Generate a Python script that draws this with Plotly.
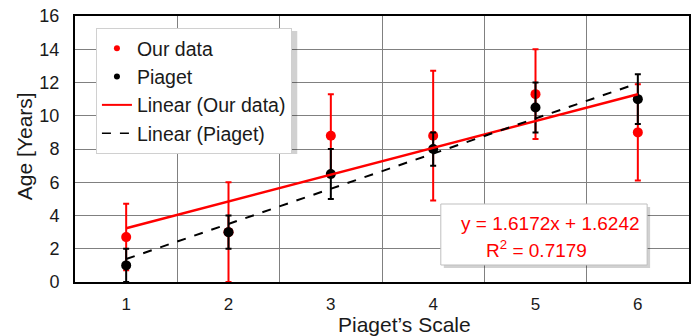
import numpy as np
import plotly.graph_objects as go

# ---- data ----
scale = [1, 2, 3, 4, 5, 6]
our_age = [2.7, 3.0, 8.8, 8.8, 11.3, 9.0]
our_err = [2.0, 3.0, 2.5, 3.9, 2.7, 2.9]
piaget_age = [1.0, 3.0, 6.5, 8.0, 10.5, 11.0]
piaget_err = [1.0, 1.0, 1.5, 1.0, 1.5, 1.5]
eq_text = "y = 1.6172x + 1.6242"
r2_text = "R<sup>2</sup> = 0.7179"

RED = "#ff0000"
BLK = "#000000"

# linear trend lines (least squares, as the spreadsheet does)
xs = np.array(scale, dtype=float)
m1, b1 = np.polyfit(xs, our_age, 1)
m2, b2 = np.polyfit(xs, piaget_age, 1)
tx = [xs.min(), xs.max()]

fig = go.Figure()
fig.add_trace(go.Scatter(
    x=scale, y=our_age, mode="markers", name="Our data", showlegend=False,
    marker=dict(color=RED, size=10),
    error_y=dict(type="data", array=our_err, color=RED, thickness=2, width=3),
))
fig.add_trace(go.Scatter(
    x=scale, y=piaget_age, mode="markers", name="Piaget", showlegend=False,
    marker=dict(color=BLK, size=10),
    error_y=dict(type="data", array=piaget_err, color=BLK, thickness=2, width=3),
))
fig.add_trace(go.Scatter(
    x=tx, y=[m1 * v + b1 for v in tx], mode="lines", name="Linear (Our data)",
    line=dict(color=RED, width=2.5), showlegend=False,
))
fig.add_trace(go.Scatter(
    x=tx, y=[m2 * v + b2 for v in tx], mode="lines", name="Linear (Piaget)",
    line=dict(color=BLK, width=2, dash="dash"), showlegend=False,
))
# legend entries (small symbols, as in the reference legend)
fig.add_trace(go.Scatter(x=[None], y=[None], mode="markers", name="Our data",
                         marker=dict(color=RED, size=6)))
fig.add_trace(go.Scatter(x=[None], y=[None], mode="markers", name="Piaget",
                         marker=dict(color=BLK, size=6)))
fig.add_trace(go.Scatter(x=[None], y=[None], mode="lines", name="Linear (Our data)",
                         line=dict(color=RED, width=2)))
fig.add_trace(go.Scatter(x=[None], y=[None], mode="lines", name="Linear (Piaget)",
                         line=dict(color=BLK, width=1.5, dash="dash")))

L, R, T, B = 75, 5, 16, 54
W, H = 696, 336
PW, PH = W - L - R, H - T - B


def px(xp):
    return (xp - L) / PW


def py(yp):
    return (H - B - yp) / PH


shapes = []
# equation box shadow + box
shapes.append(dict(type="rect", xref="paper", yref="paper",
                   x0=px(445), x1=px(652), y0=py(207), y1=py(268),
                   fillcolor="rgba(0,0,0,0.18)", line=dict(width=0), layer="above"))
shapes.append(dict(type="rect", xref="paper", yref="paper",
                   x0=px(442), x1=px(649), y0=py(204), y1=py(265),
                   fillcolor="white", line=dict(color="#bfbfbf", width=1), layer="above"))
# legend shadow
shapes.append(dict(type="rect", xref="paper", yref="paper",
                   x0=px(99), x1=px(298), y0=py(31), y1=py(154),
                   fillcolor="rgba(0,0,0,0.18)", line=dict(width=0), layer="above"))

annotations = [
    dict(text=eq_text, xref="paper", yref="paper", x=px(552), y=py(223),
         xanchor="center", yanchor="middle",
         showarrow=False, font=dict(size=19, color=RED, family="Liberation Sans")),
    dict(text=r2_text, xref="paper", yref="paper", x=px(538), y=py(249),
         xanchor="center", yanchor="middle",
         showarrow=False, font=dict(size=19, color=RED, family="Liberation Sans")),
    dict(text="Piaget’s Scale", xref="paper", yref="paper", x=px(406), y=py(324),
         xanchor="center", yanchor="middle",
         showarrow=False, font=dict(size=21, color="#1a1a1a", family="Liberation Sans")),
    dict(text="Age [Years]", xref="paper", yref="paper", x=px(24), y=py(146),
         xanchor="center", yanchor="middle", textangle=-90,
         showarrow=False, font=dict(size=21, color="#1a1a1a", family="Liberation Sans")),
]

fig.update_layout(
    width=W, height=H,
    margin=dict(l=L, r=R, t=T, b=B),
    paper_bgcolor="white", plot_bgcolor="white",
    font=dict(family="Liberation Sans", color="#1a1a1a"),
    showlegend=True,
    legend=dict(x=px(96), y=py(28), xanchor="left", yanchor="top",
                bgcolor="white", bordercolor="#d0d0d0", borderwidth=1,
                font=dict(size=19.5, color="#1a1a1a"), itemwidth=30,
                tracegroupgap=0),
    shapes=shapes,
    annotations=annotations,
    xaxis=dict(range=[0.5, 6.5], tickvals=scale, ticktext=[str(v) for v in scale],
               showgrid=False, zeroline=False,
               showline=True, linecolor="black", linewidth=2, mirror=True,
               ticks="", ticklabelstandoff=6,
               tickfont=dict(size=17, color="#1a1a1a"),
               minor=dict(tickvals=[1.5, 2.5, 3.5, 4.5, 5.5], showgrid=True,
                          gridcolor="#808080", gridwidth=1, ticks="")),
    yaxis=dict(range=[0, 16], dtick=2, showgrid=True, gridcolor="#808080", gridwidth=1,
               zeroline=False, showline=True, linecolor="black", linewidth=2, mirror=True,
               ticks="", ticklabelstandoff=10,
               tickfont=dict(size=18, color="#1a1a1a")),
)

fig.write_html("out.html", config={"displayModeBar": False},
               post_script="document.body.style.margin='0';")
